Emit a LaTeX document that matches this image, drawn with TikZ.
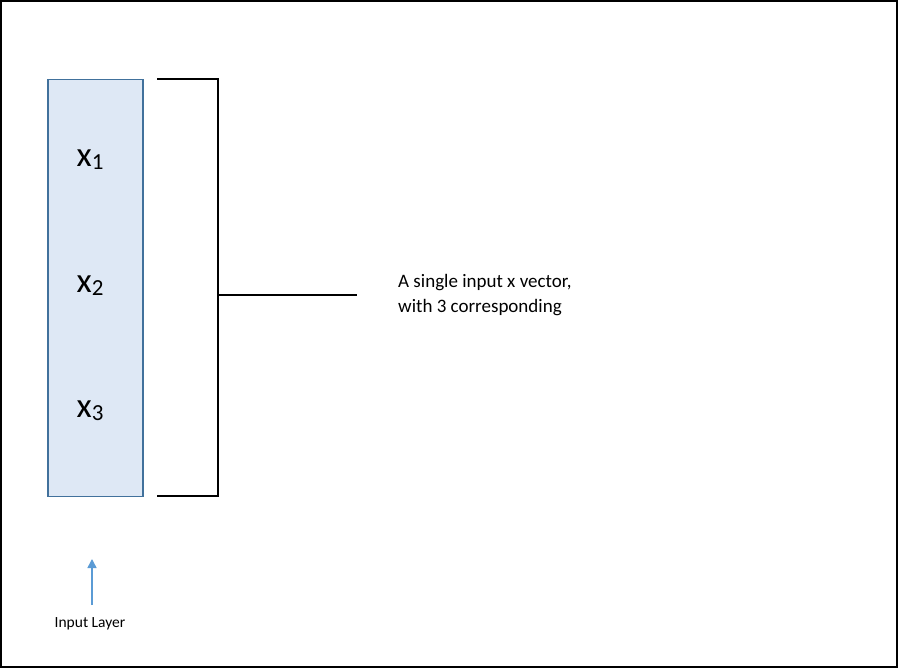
\documentclass[tikz,border=0pt]{standalone}
\usepackage{fontspec}
\setmainfont{Carlito}
\usetikzlibrary{arrows.meta}
\definecolor{boxfill}{HTML}{DEE8F5}
\definecolor{boxline}{HTML}{41719C}
\definecolor{arrowblue}{HTML}{5B9BD5}
\newcommand{\xsub}[1]{x\raisebox{-3pt}{\fontsize{23}{23}\selectfont #1}}
\begin{document}
\begin{tikzpicture}[x=1pt,y=-1pt,
  bracket/.style={draw=black,line width=2pt},
  xlabel/.style={font=\fontsize{35}{36}\selectfont,inner sep=0pt,anchor=base},
  note/.style={font=\fontsize{19}{25}\selectfont,align=left,anchor=base west,inner sep=0pt},
  small/.style={font=\fontsize{15.5}{17}\selectfont,inner sep=0pt,anchor=base}]
\useasboundingbox (0,0) rectangle (898,668);
\draw[line width=2pt] (1,1) rectangle (897,667);
\node[draw=boxline,fill=boxfill,line width=1.5pt,minimum width=95pt,minimum height=417pt,inner sep=0pt,anchor=north west] (box) at (47,79) {};
\node[xlabel] (x1) at (90,167) {\xsub{1}};
\node[xlabel] (x2) at (90,293) {\xsub{2}};
\node[xlabel] (x3) at (90,418) {\xsub{3}};
\coordinate (bt) at (157,79);
\coordinate (bb) at (157,496);
\coordinate (bm) at (218,295);
\coordinate (be) at (357,295);
\draw[bracket] (bt) -- (218,79) -- (218,496) -- (bb);
\draw[bracket] (bm) -- (be);
\node[note] (txt) at (398,313) {A single input x vector,\\with 3 corresponding};
\node[small] (lbl) at (90,627) {Input Layer};
\coordinate (as) at (92,605);
\coordinate (ae) at (92,559);
\draw[arrowblue,line width=1.5pt,-{Triangle[length=9pt,width=9pt]}] (as) -- (ae);
\end{tikzpicture}
\end{document}
